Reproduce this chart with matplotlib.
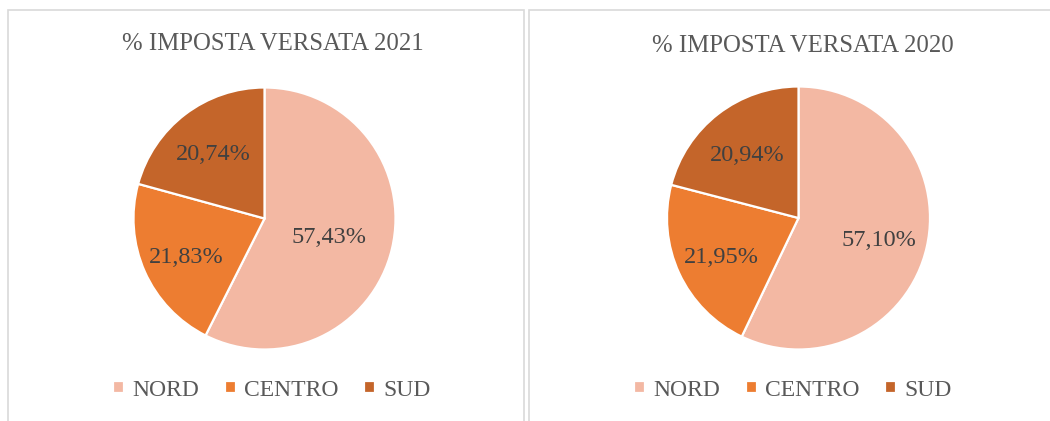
import numpy as np
import matplotlib
matplotlib.use("Agg")
import matplotlib.pyplot as plt
from matplotlib.patches import Rectangle

plt.rcParams["font.family"] = ["Liberation Serif", "DejaVu Serif"]

regions = ["NORD", "CENTRO", "SUD"]
share_2021 = [57.43, 21.83, 20.74]
share_2020 = [57.10, 21.95, 20.94]
titles = ["% IMPOSTA VERSATA 2021", "% IMPOSTA VERSATA 2020"]

colors = ["#F3B8A3", "#ED7D31", "#C4652A"]
TEXT_DARK = "#404040"
TEXT_GREY = "#595959"

W, H = 1050, 421
fig = plt.figure(figsize=(W / 100, H / 100), dpi=100)


def px_box(x0, y_top, w, h):
    # pixel box (from top-left) -> figure fraction rect
    return [x0 / W, (H - y_top - h) / H, w / W, h / H]


# panel borders (cut off at bottom / right like the source)
for x0, x1 in [(8, 524), (529, 1060)]:
    fig.patches.append(Rectangle((x0 / W, -0.05), (x1 - x0) / W, (H - 10) / H + 0.05,
                                 transform=fig.transFigure, fill=False,
                                 edgecolor="#D9D9D9", linewidth=1.2))


def draw_pie(values, title, cx, cy, r, title_x, title_y, leg_x, label_dist):
    ax = fig.add_axes(px_box(cx - r, cy - r, 2 * r, 2 * r))
    wedges, _ = ax.pie(values, colors=colors, startangle=90, counterclock=False,
                       wedgeprops=dict(edgecolor="white", linewidth=1.6))
    ax.set_xlim(-1, 1)
    ax.set_ylim(-1, 1)
    ax.set_aspect("equal")
    ax.axis("off")
    for w, v, d in zip(wedges, values, label_dist):
        ang = np.deg2rad((w.theta1 + w.theta2) / 2)
        ax.text(d * np.cos(ang), d * np.sin(ang) - 0.03, f"{v:.2f}%".replace(".", ","),
                ha="center", va="center", fontsize=17.5, color=TEXT_DARK)
    fig.text(title_x / W, 1 - title_y / H, title, ha="center", va="center",
             fontsize=17.8, color=TEXT_GREY)
    fig.legend(wedges, regions, loc="center", bbox_to_anchor=(leg_x / W, 1 - 390 / H),
               ncol=3, frameon=False, fontsize=17, labelcolor=TEXT_GREY,
               handlelength=0.45, handleheight=0.45, handletextpad=0.35,
               columnspacing=1.1)


draw_pie(share_2021, titles[0], 264.5, 218.5, 131, 273, 44, 272, [0.51, 0.65, 0.65])
draw_pie(share_2020, titles[1], 798.5, 218, 131.5, 803, 46, 793, [0.63, 0.65, 0.64])

fig.savefig("out.png", dpi=100, facecolor="white")
